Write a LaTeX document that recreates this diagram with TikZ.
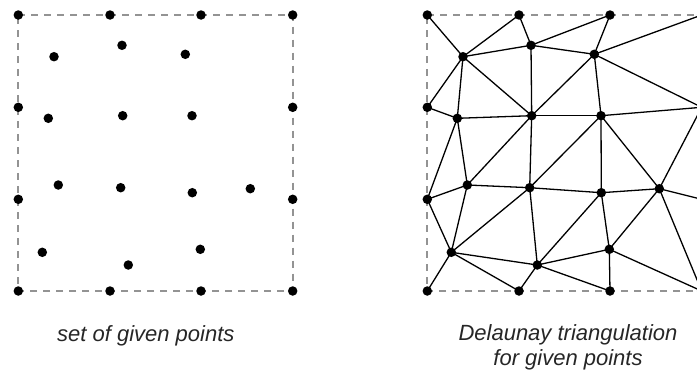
\documentclass[tikz,border=0pt]{standalone}
\usepackage{fontspec}
\setmainfont{Liberation Sans}
\usetikzlibrary{backgrounds}
\newcommand{\mypts}{A0/18.3/15, A1/110/15, A2/201/15, A3/292.7/15,
  L1/18.3/107.3, R1/292.7/107.3, L2/18.3/199.3, R2/292.7/199.3,
  B0/18.3/291, B1/110/291, B2/201/291, B3/292.7/291,
  P1/54/56.7, P2/122/45.3, P3/185.3/54.3,
  P4/48.3/118.3, P5/122.7/115.7, P6/192/115.7,
  P7/58.3/185, P8/120.7/187.7, P9/192.3/192.7, P10/250.3/188.7,
  P11/42.3/252.3, P12/128.3/265, P13/200.3/249.3}
\tikzset{
  dot/.style={circle, fill=black, draw=none, inner sep=0pt, minimum size=9.5pt},
  frame/.style={draw=gray!85, line width=1.8pt, dash pattern=on 7pt off 6pt},
  edge/.style={draw=black, line width=1.3pt},
  caption/.style={text=black!85, font=\fontsize{22}{25}\selectfont\itshape, inner sep=0pt, align=center}
}
\begin{document}
\begin{tikzpicture}[x=1pt, y=-1pt]
\useasboundingbox (0,0) rectangle (697,372);
\clip (0,0) rectangle (697,372);
\foreach \n/\x/\y in \mypts {
  \node[dot] (l\n) at (\x,\y) {};
  \node[dot] (r\n) at (\x+409,\y) {};
}
\begin{pgfonlayer}{background}
  \draw[frame] (lA0.center) -- (lA3.center) -- (lB3.center) -- (lB0.center) -- cycle;
  \draw[frame] (rA0.center) -- (rA3.center) -- (rB3.center) -- (rB0.center) -- cycle;
  \foreach \a/\b in {A0/P1, A1/P1, A1/P2, A2/P2, A2/P3, P3/A3, P1/P2, P2/P3,
      P2/P5, P1/P5, P3/P5, P3/P6, P3/R1, P6/R1, P1/L1, P1/P4, L1/P4, P4/P5,
      P5/P6, P4/L2, P4/P7, L2/P7, P7/P5, P5/P8, P8/P6, P6/P9, P6/P10, R1/P10,
      P7/P8, P8/P9, P9/P10, P10/R2, L2/P11, P7/P11, P8/P11, P8/P12, P9/P12,
      P9/P13, P10/P13, P10/B3, P11/P12, P12/P13, P11/B0, P11/B1, P12/B1,
      P12/B2, P13/B2, P13/B3}
    \draw[edge] (r\a.center) -- (r\b.center);
\end{pgfonlayer}
\node[caption, anchor=base] (cap1) at (145.8,341) {set of given points};
\node[caption, anchor=base] (cap2) at (568,365) {Delaunay triangulation\\for given points};
\end{tikzpicture}
\end{document}
